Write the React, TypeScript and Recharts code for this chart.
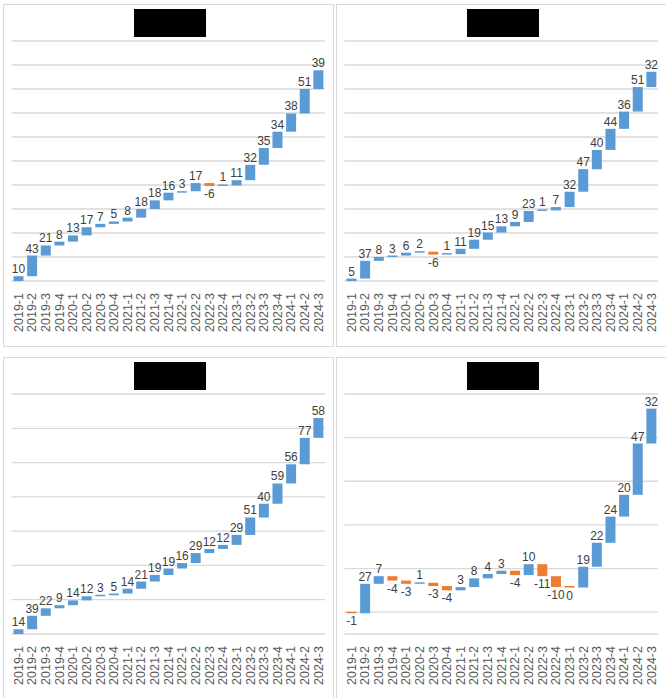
import React from 'react';
import { BarChart, Bar, XAxis, YAxis, CartesianGrid, Cell, LabelList } from 'recharts';

const periods = [
  '2019-1', '2019-2', '2019-3', '2019-4', '2020-1', '2020-2', '2020-3', '2020-4',
  '2021-1', '2021-2', '2021-3', '2021-4', '2022-1', '2022-2', '2022-3', '2022-4',
  '2023-1', '2023-2', '2023-3', '2023-4', '2024-1', '2024-2', '2024-3',
];

const topLeftDeltas = [10, 43, 21, 8, 13, 17, 7, 5, 8, 18, 18, 16, 3, 17, -6, 1, 11, 32, 35, 34, 38, 51, 39];
const topRightDeltas = [5, 37, 8, 3, 6, 2, -6, 1, 11, 19, 15, 13, 9, 23, 1, 7, 32, 47, 40, 44, 36, 51, 32];
const bottomLeftDeltas = [14, 39, 22, 9, 14, 12, 3, 5, 14, 21, 19, 19, 16, 29, 12, 12, 29, 51, 40, 59, 56, 77, 58];
const bottomRightDeltas = [-1, 27, 7, -4, -3, 1, -3, -4, 3, 8, 4, 3, -4, 10, -11, -10, -0.4, 19, 22, 24, 20, 47, 32];

const ticksTop = [0, 50, 100, 150, 200, 250, 300, 350, 400, 450, 500];
const ticksBottomLeft = [0, 100, 200, 300, 400, 500, 600, 700];
const ticksBottomRight = [-20, 0, 20, 40, 60, 80, 100, 120, 140, 160, 180, 200];

const UP = '#5B9BD5';
const DOWN = '#ED7D31';
const FONT = '"Liberation Sans", Arial, sans-serif';

// cumulative start/end for each step of the waterfall
const buildRows = (deltas: number[]) => {
  let run = 0;
  return periods.map((p, i) => {
    const start = run;
    run += deltas[i];
    return { period: p, delta: deltas[i], range: [Math.min(start, run), Math.max(start, run)] };
  });
};

const PeriodTick = ({ x, y, payload }: any) => (
  <g transform={`translate(${x},${y})`}>
    <text transform="rotate(-90)" x={-4} dy={4.5} textAnchor="end" fontSize={12.5} fill="#595959" fontFamily={FONT}>
      {payload.value}
    </text>
  </g>
);

const StepLabel = (props: any) => {
  const { x, y, width, height, value } = props;
  if (x == null || y == null) return null;
  const top = Math.min(y, y + height);
  const bottom = Math.max(y, y + height);
  const cx = x + width / 2;
  const neg = value < 0;
  return (
    <text x={cx} y={neg ? bottom + 12 : top - 3} textAnchor="middle" fontSize={12} fill="#404040" fontFamily={FONT}>
      {`${Math.round(value)}`}
    </text>
  );
};

interface PanelProps {
  deltas: number[];
  ticks: number[];
  left: number;
  top: number;
  height: number;
}

const Panel: React.FC<PanelProps> = ({ deltas, ticks, left, top, height }) => {
  const rows = buildRows(deltas);
  return (
    <div style={{ position: 'absolute', left, top, width: 329, height, border: '1px solid #D9D9D9', background: '#fff' }}>
      <div style={{ position: 'absolute', left: 130, top: 4, width: 72, height: 28, background: '#000' }} />
      <BarChart width={329} height={330} data={rows} margin={{ top: 36, right: 8, left: 7.5, bottom: 6 }}>
        <CartesianGrid vertical={false} stroke="#D9D9D9" strokeWidth={1.3} />
        <XAxis dataKey="period" interval={0} axisLine={false} tickLine={false} height={48} tick={<PeriodTick />} />
        <YAxis hide domain={[ticks[0], ticks[ticks.length - 1]]} ticks={ticks} />
        <Bar dataKey="range" barSize={10} minPointSize={1.5} isAnimationActive={false}>
          {rows.map((r, i) => (
            <Cell key={i} fill={r.delta < 0 ? DOWN : UP} />
          ))}
          <LabelList dataKey="delta" content={<StepLabel />} />
        </Bar>
      </BarChart>
    </div>
  );
};

export default function App() {
  return (
    <div style={{ position: 'absolute', left: 0, top: 0, width: 666, height: 698, overflow: 'hidden', background: '#fff' }}>
      <Panel deltas={topLeftDeltas} ticks={ticksTop} left={3} top={4} height={341} />
      <Panel deltas={topRightDeltas} ticks={ticksTop} left={336} top={4} height={341} />
      <Panel deltas={bottomLeftDeltas} ticks={ticksBottomLeft} left={3} top={357} height={360} />
      <Panel deltas={bottomRightDeltas} ticks={ticksBottomRight} left={336} top={357} height={360} />
    </div>
  );
}
